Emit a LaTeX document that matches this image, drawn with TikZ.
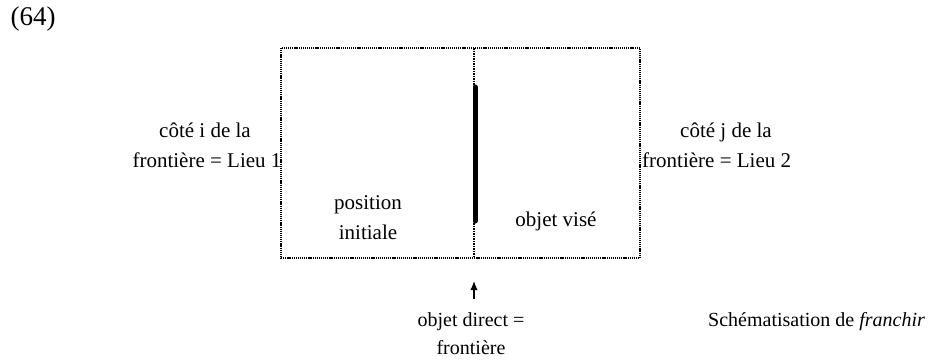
\documentclass[tikz,border=0pt]{standalone}
\usepackage{fontspec}
\usetikzlibrary{arrows.meta}
\setmainfont{Liberation Serif}
\begin{document}
\begin{tikzpicture}[x=1pt,y=-1pt,
  lbl/.style={font=\fontsize{21}{30}\selectfont,inner sep=0pt,anchor=base},
  small/.style={font=\fontsize{20}{30}\selectfont},
  dotborder/.style={line width=1.4pt,dash pattern=on 1.2pt off 0.9pt},
  midline/.style={line width=2.6pt,dash pattern=on 1.5pt off 1pt},
  heavy/.style={line width=5pt,line cap=round}]
\useasboundingbox (0,0) rectangle (949,360);
\coordinate (tl) at (281,48);
\coordinate (br) at (640,258);
\draw[dotborder] (tl) rectangle (br);
\coordinate (mt) at (474,48);
\coordinate (mb) at (474,258);
\draw[midline] (mt) -- (mb);
\coordinate (ht) at (475,87);
\coordinate (hb) at (475,221);
\draw[heavy] (ht) -- (hb);
\node[lbl,font=\fontsize{27}{30}\selectfont] (num) at (33,25) {(64)};
\node[lbl] (l1a) at (205,137) {côté i de la};
\node[lbl] (l1b) at (207,167) {frontière = Lieu 1};
\node[lbl,anchor=base west] (l2a) at (680,137) {côté j de la};
\node[lbl,anchor=base west] (l2b) at (642,167) {frontière = Lieu 2};
\node[lbl] (pos1) at (368,209) {position};
\node[lbl] (pos2) at (368,239) {initiale};
\node[lbl] (vise) at (556,226) {objet visé};
\node[lbl,small] (od1) at (471,326) {objet direct =};
\node[lbl,small] (od2) at (471,354) {frontière};
\node[lbl,small,anchor=base west] (sch) at (708,326) {Schématisation de \textit{franchir}};
\coordinate (ab) at (474,299);
\coordinate (at) at (474,281);
\draw[line width=1.4pt,-{Latex[length=9pt,width=7.5pt]}] (ab) -- (at);
\end{tikzpicture}
\end{document}
